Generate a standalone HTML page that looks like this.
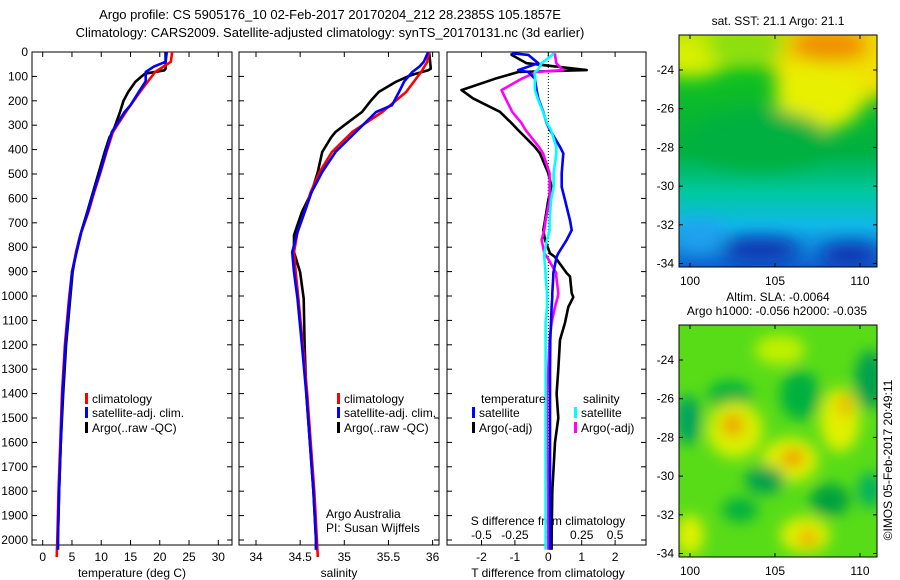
<!DOCTYPE html>
<html><head><meta charset="utf-8">
<style>
html,body{margin:0;padding:0;background:#fff;}
svg{display:block;font-family:"Liberation Sans",sans-serif;}
</style></head>
<body>
<svg id="fig" width="900" height="580" viewBox="0 0 900 580">
<defs>
 <filter id="blur1" x="-20%" y="-20%" width="140%" height="140%"><feGaussianBlur stdDeviation="9"/></filter>
 <filter id="blur2" x="-20%" y="-20%" width="140%" height="140%"><feGaussianBlur stdDeviation="7"/></filter>
 <clipPath id="clipM1"><rect x="679" y="35" width="198" height="232"/></clipPath>
 <clipPath id="clipM2"><rect x="679" y="325" width="198" height="232"/></clipPath>
 <linearGradient id="sstg" x1="0" y1="0" x2="0" y2="1">
  <stop offset="0" stop-color="#a0e000"/><stop offset="0.18" stop-color="#10c020"/>
  <stop offset="0.5" stop-color="#00b040"/><stop offset="0.68" stop-color="#00c8a0"/>
  <stop offset="0.82" stop-color="#10b8e8"/><stop offset="1" stop-color="#1060d0"/>
 </linearGradient>
</defs>
<text x="330" y="19" text-anchor="middle" font-size="13">Argo profile: CS 5905176_10 02-Feb-2017 20170204_212 28.2385S 105.1857E</text>
<text x="330" y="37" text-anchor="middle" font-size="13">Climatology: CARS2009. Satellite-adjusted climatology: synTS_20170131.nc (3d earlier)</text>

<!-- SST map -->
<g clip-path="url(#clipM1)">
 <rect x="679" y="35" width="198" height="232" fill="url(#sstg)"/>
 <g filter="url(#blur1)">
  <ellipse cx="840" cy="60" rx="70" ry="45" fill="#f0e000"/>
  <ellipse cx="820" cy="95" rx="45" ry="35" fill="#e8f000"/>
  <ellipse cx="830" cy="45" rx="40" ry="18" fill="#f09000"/>
  <ellipse cx="690" cy="55" rx="40" ry="22" fill="#d8f000"/>
  <ellipse cx="745" cy="50" rx="40" ry="15" fill="#90e010"/>
  <ellipse cx="760" cy="140" rx="70" ry="30" fill="#00b040"/>
  <ellipse cx="760" cy="250" rx="40" ry="12" fill="#0830b0"/>
  <ellipse cx="850" cy="255" rx="30" ry="12" fill="#0830b0"/>
  <ellipse cx="700" cy="235" rx="25" ry="15" fill="#20a0f0"/>
 </g>
</g>
<rect x="679" y="35" width="198" height="232" fill="none" stroke="#000"/>
<text x="778" y="25" text-anchor="middle" font-size="12">sat. SST: 21.1 Argo: 21.1</text>

<!-- SLA map -->
<g clip-path="url(#clipM2)">
 <rect x="679" y="325" width="198" height="232" fill="#58dc18"/>
 <g filter="url(#blur2)">
  <ellipse cx="730" cy="395" rx="22" ry="14" fill="#00b040"/>
  <ellipse cx="800" cy="395" rx="20" ry="25" fill="#00b040"/>
  <ellipse cx="870" cy="380" rx="15" ry="30" fill="#00a050"/>
  <ellipse cx="688" cy="420" rx="12" ry="25" fill="#00a060"/>
  <ellipse cx="735" cy="430" rx="28" ry="28" fill="#d8f000"/>
  <ellipse cx="733" cy="425" rx="11" ry="11" fill="#f0a000"/>
  <ellipse cx="840" cy="420" rx="20" ry="32" fill="#e0f000"/>
  <ellipse cx="845" cy="405" rx="7" ry="12" fill="#f0b000"/>
  <ellipse cx="790" cy="460" rx="28" ry="22" fill="#e0f000"/>
  <ellipse cx="793" cy="458" rx="12" ry="8" fill="#f09000"/>
  <ellipse cx="765" cy="480" rx="20" ry="14" fill="#00a050"/>
  <ellipse cx="830" cy="500" rx="20" ry="16" fill="#00a040"/>
  <ellipse cx="870" cy="490" rx="12" ry="18" fill="#00b060"/>
  <ellipse cx="690" cy="535" rx="14" ry="20" fill="#e0f000"/>
  <ellipse cx="805" cy="535" rx="25" ry="18" fill="#e0f000"/>
  <ellipse cx="808" cy="538" rx="9" ry="8" fill="#f0a000"/>
  <ellipse cx="740" cy="510" rx="18" ry="12" fill="#00b040"/>
  <ellipse cx="780" cy="350" rx="25" ry="15" fill="#c0f000"/>
 </g>
</g>
<rect x="679" y="325" width="198" height="232" fill="none" stroke="#000"/>
<text x="778" y="301" text-anchor="middle" font-size="12">Altim. SLA: -0.0064</text>
<text x="777" y="315" text-anchor="middle" font-size="12">Argo h1000: -0.056 h2000: -0.035</text>
<text transform="translate(892,460) rotate(-90)" text-anchor="middle" font-size="12">©IMOS 05-Feb-2017 20:49:11</text>
<g id="maxes"></g>
<g id="plots"></g>
</svg>
<script>
// ---------- data ----------
var depthTicks = [0,100,200,300,400,500,600,700,800,900,1000,1100,1200,1300,1400,1500,1600,1700,1800,1900,2000];
var tempTicks = [0,5,10,15,20,25,30];
var salTicks = [34,34.5,35,35.5,36];
var salTickLabels = ['34','34.5','35','35.5','36'];
var tdiffTicks = [-2,-1,0,1,2];
var sdiffTicks = [-0.5,-0.25,0,0.25,0.5];
var sdiffTickLabels = ['-0.5','-0.25','0','0.25','0.5'];

var climDepth = [0,40,82,164,246,328,410,492,574,656,738,820,902,1011,1200,1400,1600,1800,2000,2070];
var climTemp  = [22.1,21.9,19.2,16.6,14.2,12.0,10.9,9.9,8.8,7.8,6.6,5.7,5.0,4.5,3.8,3.3,3.0,2.7,2.5,2.4];
var climSal   = [35.96,35.94,35.87,35.70,35.43,35.09,34.86,34.72,34.62,34.55,34.47,34.43,34.45,34.48,34.53,34.58,34.62,34.66,34.69,34.70];

var satDepth = [0,40,60,82,120,164,218,246,328,410,492,574,656,738,820,902,1011,1200,1400,1600,1800,2000,2040];
var satTemp  = [21.2,21.0,19.0,17.6,17.6,16.4,15.0,14.0,11.8,10.8,9.8,8.7,7.7,6.6,5.8,5.0,4.6,3.9,3.4,3.1,2.8,2.6,2.6];
var satSal   = [35.95,35.9,35.85,35.77,35.68,35.62,35.54,35.36,35.13,34.90,34.75,34.63,34.55,34.47,34.41,34.43,34.47,34.52,34.57,34.61,34.65,34.68,34.68];

var argoDepth = [0,68,75,89,100,123,164,200,246,300,328,350,410,492,574,656,751,820,902,1011,1200,1400,1600,1800,2000,2040];
var argoTemp  = [21.0,21.0,20.8,17.5,16.9,15.8,14.6,13.8,13.2,12.4,12.0,11.4,10.6,9.6,8.6,7.6,6.4,5.7,5.1,4.7,4.0,3.5,3.1,2.8,2.6,2.6];
var argoSal   = [35.96,35.98,35.95,35.81,35.72,35.58,35.39,35.3,35.2,35.0,34.9,34.85,34.75,34.70,34.63,34.52,34.43,34.43,34.50,34.54,34.55,34.57,34.61,34.65,34.68,34.68];

var dDepth = [5,12,46,74,82,110,156,190,245,292,320,389,415,497,553,607,690,730,770,825,840,906,920,988,1005,1045,1110,1180,1300,1400,1500,1600,1800,2000,2040];
var argoTdiff = [-1.1,-1.1,-0.65,1.15,-0.9,-1.6,-2.6,-2.25,-1.45,-1.1,-0.9,-0.4,-0.25,0.0,0.1,0.0,-0.1,-0.15,-0.1,0.05,0.2,0.55,0.65,0.7,0.75,0.6,0.5,0.35,0.3,0.25,0.3,0.2,0.12,0.1,0.1];
var satTdiff  = [-1.1,-0.6,-0.3,-0.9,-0.6,-0.4,-0.35,-0.3,-0.15,-0.05,0.05,0.35,0.45,0.4,0.4,0.5,0.65,0.7,0.55,0.3,0.25,0.15,0.15,0.12,0.12,0.1,0.08,0.06,0.05,0.05,0.05,0.05,0.05,0.05,0.05];
var argoSdiff = [0.05,0.05,0.06,0.11,-0.09,-0.2,-0.35,-0.32,-0.27,-0.2,-0.17,-0.07,-0.04,0.01,0.01,0.01,-0.02,-0.03,-0.05,-0.03,-0.01,0.06,0.06,0.075,0.07,0.05,0.025,0.01,0.0,-0.01,-0.01,-0.01,0.0,0.0,0.0];
var satSdiff  = [0.04,0.03,-0.05,-0.08,-0.1,-0.1,-0.1,-0.08,-0.04,-0.01,0.02,0.06,0.06,0.04,0.04,0.02,0.01,0.01,-0.01,-0.03,-0.03,-0.02,-0.02,-0.01,-0.01,-0.01,-0.02,-0.02,-0.02,-0.02,-0.02,-0.02,-0.02,-0.02,-0.02];

var latTicks = [-24,-26,-28,-30,-32,-34];
var lonTicks = [100,105,110];

// ---------- helpers ----------
var NS = 'http://www.w3.org/2000/svg';
var plots = document.getElementById('plots');
var TOP = 52, BOT = 545;
function yD(d){ return TOP + d*0.2440; }
function xT(t){ return 42.7 + t*5.853; }
function xS(s){ return 256 + (s-34)*88.3; }
function xTD(t){ return 548.3 + t*33.4; }
function xSD(s){ return 548.3 + s*133.6; }
function mk(tag, attrs, parent){
  var e = document.createElementNS(NS, tag);
  for (var k in attrs) e.setAttribute(k, attrs[k]);
  (parent||plots).appendChild(e); return e;
}
function txt(x,y,s,anchor,size,parent){
  var t = mk('text',{x:x,y:y,'text-anchor':anchor||'middle','font-size':size||12},parent);
  t.textContent = s; return t;
}
function line(xs, depths, fx, color, name, dash){
  var pts = [];
  for (var i=0;i<depths.length;i++) pts.push(fx(xs[i]).toFixed(1)+','+yD(depths[i]).toFixed(1));
  var p = mk('polyline',{points:pts.join(' '),fill:'none',stroke:color,'stroke-width':2.6,'stroke-linejoin':'round'});
  if (dash) p.setAttribute('stroke-dasharray', dash);
  
  
}
function frame(x0,x1,name){
  var r = mk('rect',{x:x0,y:TOP,width:x1-x0,height:BOT-TOP,fill:'none',stroke:'#000','stroke-width':1});
  
  
  for (var i=0;i<depthTicks.length;i++){
    var y = yD(depthTicks[i]);
    mk('line',{x1:x0,x2:x0+5,y1:y,y2:y,stroke:'#000'});
    mk('line',{x1:x1-5,x2:x1,y1:y,y2:y,stroke:'#000'});
  }
}
function xticks(vals, labels, fx){
  for (var i=0;i<vals.length;i++){
    var x = fx(vals[i]);
    mk('line',{x1:x,x2:x,y1:TOP,y2:TOP+5,stroke:'#000'});
    mk('line',{x1:x,x2:x,y1:BOT-5,y2:BOT,stroke:'#000'});
    var t = txt(x, 561, labels[i]);
    
    
  }
}
function legendEntry(x,y,color,label){
  var g = mk('g',{});
  
  
  mk('rect',{x:x,y:y-10,width:3,height:11,fill:color},g);
  txt(x+7,y,label,'start',12,g);
}

// ---------- panel 1: temperature ----------
frame(32,232,'temperature-panel');
for (var i=0;i<depthTicks.length;i++){
  var t = txt(28, yD(depthTicks[i])+4, String(depthTicks[i]), 'end');
  
  
}
xticks(tempTicks, tempTicks.map(String), xT);
var tt = txt(132, 577, 'temperature (deg C)');


line(argoTemp, argoDepth, xT, '#000', 'argo-temperature-line');
line(climTemp, climDepth, xT, '#f00', 'climatology-temperature-line');
line(satTemp, satDepth, xT, '#00f', 'satellite-temperature-line');
legendEntry(85,403,'#f00','climatology');
legendEntry(85,417,'#00f','satellite-adj. clim.');
legendEntry(85,432,'#000','Argo(..raw -QC)');

// ---------- panel 2: salinity ----------
frame(239,439,'salinity-panel');
xticks(salTicks, salTickLabels, xS);
var st = txt(339, 577, 'salinity');


line(argoSal, argoDepth, xS, '#000', 'argo-salinity-line');
line(climSal, climDepth, xS, '#f00', 'climatology-salinity-line');
line(satSal, satDepth, xS, '#00f', 'satellite-salinity-line');
legendEntry(337,403,'#f00','climatology');
legendEntry(337,417,'#00f','satellite-adj. clim.');
legendEntry(337,432,'#000','Argo(..raw -QC)');
var a1 = txt(326,518,'Argo Australia','start');


var a2 = txt(326,532,'PI: Susan Wijffels','start');



// ---------- panel 3: differences ----------
frame(447,646,'difference-panel');
xticks(tdiffTicks, tdiffTicks.map(String), xTD);
var zl = mk('line',{x1:xTD(0),x2:xTD(0),y1:TOP,y2:BOT,stroke:'#000','stroke-dasharray':'1,2'});


for (var i=0;i<sdiffTicks.length;i++){
  var t = txt(xSD(sdiffTicks[i]), 539, sdiffTickLabels[i]);
  
  
}
var sdt = txt(548, 525, 'S difference from climatology');


var tdt = txt(548, 577, 'T difference from climatology');


line(argoTdiff, dDepth, xTD, '#000', 'argo-t-diff-line');
line(argoSdiff, dDepth, xSD, '#f0f', 'argo-s-diff-line');
line(satTdiff, dDepth, xTD, '#00f', 'satellite-t-diff-line');
line(satSdiff, dDepth, xSD, '#0ff', 'satellite-s-diff-line');
var lt = txt(481,403,'temperature','start');


var ls = txt(583,403,'salinity','start');


legendEntry(472,417,'#00f','satellite');
legendEntry(472,432,'#000','Argo(-adj)');
legendEntry(574,417,'#0ff','satellite');
legendEntry(574,432,'#f0f','Argo(-adj)');

// ---------- map axes ----------
var maxes = document.getElementById('maxes');
function mapAxes(y0, name){
  for (var i=0;i<latTicks.length;i++){
    var y = y0 + 35 + (latTicks[i] - (-24)) * (-19.35);
    mk('line',{x1:679,x2:683,y1:y,y2:y,stroke:'#000'},maxes);
    mk('line',{x1:873,x2:877,y1:y,y2:y,stroke:'#000'},maxes);
    var t = txt(674, y+4, String(latTicks[i]), 'end', 12, maxes);
    
    
  }
  for (var j=0;j<lonTicks.length;j++){
    var x = 690 + (lonTicks[j]-100)*17;
    mk('line',{x1:x,x2:x,y1:y0,y2:y0+4,stroke:'#000'},maxes);
    mk('line',{x1:x,x2:x,y1:y0+228,y2:y0+232,stroke:'#000'},maxes);
    var t2 = txt(x, y0+250, String(lonTicks[j]), 'middle', 12, maxes);
    
    
  }
}
mapAxes(35,'sst-map');
mapAxes(325,'sla-map');
</script>
</body></html>
